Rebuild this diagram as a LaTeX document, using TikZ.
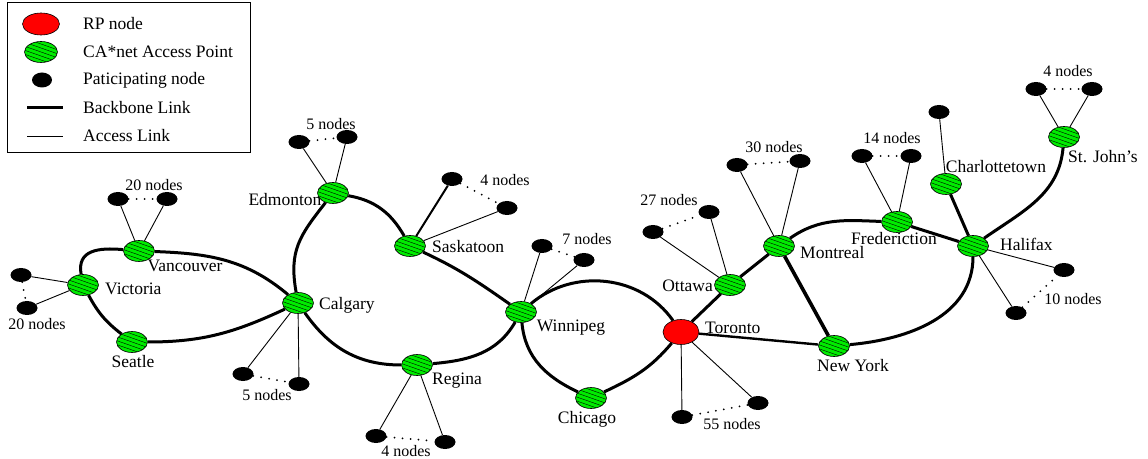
\documentclass[tikz,border=0pt]{standalone}
\usepackage{fontspec}
\setmainfont{Liberation Serif}
\usetikzlibrary{shapes.geometric,backgrounds}
\definecolor{apgreen}{RGB}{0,235,0}
\begin{document}
\begin{tikzpicture}[x=1pt,y=1pt,
  city/.style={ellipse, draw, line width=0.6pt, fill=apgreen, minimum width=31pt, minimum height=21pt, inner sep=0pt,
    path picture={\foreach \k in {-28,-24,...,28}{\draw[line width=0.4pt] ([shift={(-20,\k+7)}]path picture bounding box.center) -- ++(40,-14);}}},
  rp/.style={ellipse, draw, line width=0.6pt, fill=red, minimum width=36pt, minimum height=25pt, inner sep=0pt},
  pdot/.style={ellipse, fill=black, minimum width=21pt, minimum height=14pt, inner sep=0pt},
  lab/.style={font=\fontsize{17.5}{18}\selectfont, inner sep=0pt},
  cnt/.style={font=\fontsize{16}{17}\selectfont, inner sep=0pt},
  bb/.style={line width=3pt},
  acc/.style={line width=0.9pt},
  dts/.style={line width=2pt, dash pattern=on 0pt off 8pt, line cap=round}]
\useasboundingbox (0,0) rectangle (1148,458);
% legend
\node[draw, line width=1pt, minimum width=243pt, minimum height=150pt, inner sep=0pt] (legend) at (128.5,380) {};
\node[rp, minimum width=37pt, minimum height=22pt] (lrp) at (41,434) {};
\node[city, minimum width=33pt, minimum height=21pt] (lca) at (41,406) {};
\node[pdot, minimum width=20pt, minimum height=15pt] (lpn) at (42,378) {};
\coordinate (lb1) at (27,350); \coordinate (lb2) at (63,350);
\coordinate (la1) at (27,322); \coordinate (la2) at (63,322);
\draw[bb] (lb1) -- (lb2);
\draw[acc] (la1) -- (la2);
\node[lab, anchor=west] (t1) at (83,434) {RP node};
\node[lab, anchor=west] (t2) at (83,406) {CA*net Access Point};
\node[lab, anchor=west] (t3) at (83,378) {Paticipating node};
\node[lab, anchor=west] (t4) at (83,350) {Backbone Link};
\node[lab, anchor=west] (t5) at (83,322) {Access Link};
% city labels
\node[lab, anchor=west] (lVictoria) at (105,169) {Victoria};
\node[lab] (lVancouver) at (185,192) {Vancouver};
\node[lab] (lSeatle) at (133,96) {Seatle};
\node[lab, anchor=west] (lCalgary) at (319,153) {Calgary};
\node[lab] (lEdmonton) at (285,258) {Edmonton};
\node[lab, anchor=west] (lSaskatoon) at (432,211) {Saskatoon};
\node[lab] (lWinnipeg) at (571,130) {Winnipeg};
\node[lab] (lRegina) at (457,77) {Regina};
\node[lab] (lChicago) at (587,39) {Chicago};
\node[lab, anchor=west] (lToronto) at (705,130) {Toronto};
\node[lab, anchor=east] (lOttawa) at (713,172) {Ottawa};
\node[lab, anchor=west] (lMontreal) at (800,205) {Montreal};
\node[lab] (lNewYork) at (853,92) {New York};
\node[lab] (lFred) at (894,219) {Frederiction};
\node[lab] (lCharl) at (996,291) {Charlottetown};
\node[lab, anchor=west] (lHalifax) at (1000,214) {Halifax};
\node[lab, anchor=west] (lStJohns) at (1068,301) {St. John’s};
% count labels
\node[cnt] (cvan) at (154,273) {20 nodes};
\node[cnt] (cvic) at (37,134) {20 nodes};
\node[cnt] (ccal) at (267,63) {5 nodes};
\node[cnt] (cedm) at (331,334) {5 nodes};
\node[cnt] (csas) at (505,278) {4 nodes};
\node[cnt] (cwin) at (587,219) {7 nodes};
\node[cnt] (creg) at (406,7) {4 nodes};
\node[cnt] (ctor) at (732,34) {55 nodes};
\node[cnt] (cott) at (669,258) {27 nodes};
\node[cnt] (cmon) at (774,311) {30 nodes};
\node[cnt] (cfre) at (892,320) {14 nodes};
\node[cnt] (cstj) at (1068,387) {4 nodes};
\node[cnt] (chal) at (1073,159) {10 nodes};
% access points
\node[city] (Victoria) at (83,173) {};
\node[city] (Vancouver) at (139,207) {};
\node[city] (Seatle) at (132,116) {};
\node[city] (Calgary) at (298,155) {};
\node[city] (Edmonton) at (333,265) {};
\node[city] (Saskatoon) at (410,212) {};
\node[city] (Winnipeg) at (521,146) {};
\node[city] (Regina) at (417,93) {};
\node[city] (Chicago) at (591,60) {};
\node[rp] (Toronto) at (681,126) {};
\node[city] (Ottawa) at (730,173) {};
\node[city] (Montreal) at (779,212) {};
\node[city] (NewYork) at (834,112) {};
\node[city] (Fred) at (897,236) {};
\node[city] (Charl) at (946,274) {};
\node[city] (Halifax) at (973,212) {};
\node[city] (StJohns) at (1064,321) {};
% participating nodes
\node[pdot] (van1) at (118,259) {};
\node[pdot] (van2) at (167,259) {};
\node[pdot] (vic1) at (21,183) {};
\node[pdot] (vic2) at (27,150) {};
\node[pdot] (cal1) at (243,84) {};
\node[pdot] (cal2) at (299,74) {};
\node[pdot] (edm1) at (299,316) {};
\node[pdot] (edm2) at (347,321) {};
\node[pdot] (sas1) at (452,279) {};
\node[pdot] (sas2) at (507,250) {};
\node[pdot] (win1) at (542,212) {};
\node[pdot] (win2) at (584,198) {};
\node[pdot] (reg1) at (376,22) {};
\node[pdot] (reg2) at (445,16) {};
\node[pdot] (tor1) at (682,41) {};
\node[pdot] (tor2) at (758,55) {};
\node[pdot] (ott1) at (653,226) {};
\node[pdot] (ott2) at (709,246) {};
\node[pdot] (mon1) at (737,293) {};
\node[pdot] (mon2) at (800,297) {};
\node[pdot] (fre1) at (862,302) {};
\node[pdot] (fre2) at (911,302) {};
\node[pdot] (cha1) at (939,346) {};
\node[pdot] (stj1) at (1036,369) {};
\node[pdot] (stj2) at (1092,369) {};
\node[pdot] (hal1) at (1064,188) {};
\node[pdot] (hal2) at (1016,145) {};
\begin{pgfonlayer}{background}
% backbone
\draw[bb] (Victoria) to[out=100,in=175,looseness=1.3] (Vancouver);
\draw[bb] (Vancouver) to[out=-2,in=140] (Calgary);
\draw[bb] (Victoria) to[bend right=12] (Seatle);
\draw[bb] (Seatle) to[out=0,in=205] (Calgary);
\draw[bb] (Calgary) to[out=100,in=232,looseness=1.15] (Edmonton);
\draw[bb] (Calgary) to[out=-55,in=180] (Regina);
\draw[bb] (Regina) to[out=5,in=240] (Winnipeg);
\draw[bb] (Edmonton) to[out=-10,in=120] (Saskatoon);
\draw[bb] (Saskatoon) to[out=-25,in=145] (Winnipeg);
\draw[bb] (Winnipeg) to[out=40,in=125] (Toronto);
\draw[bb] (Winnipeg) to[out=-85,in=155] (Chicago);
\draw[bb] (Chicago) to[out=25,in=230] (Toronto);
\draw[bb] (Toronto) -- (Ottawa);
\draw[bb] (Ottawa) -- (Montreal);
\draw[bb, line width=3.6pt] (Montreal) -- (NewYork);
\draw[bb, line width=2.4pt] (Toronto) -- (NewYork);
\draw[bb] (Montreal) to[out=35,in=178] (Fred);
\draw[bb] (Fred) -- (Halifax);
\draw[bb] (NewYork) to[out=5,in=-90] (Halifax);
\draw[bb] (Charl) -- (Halifax);
\draw[bb] (Halifax) to[out=35,in=-95] (StJohns);
% access
\draw[acc] (Vancouver) -- (van1); \draw[acc] (Vancouver) -- (van2);
\draw[acc] (Victoria) -- (vic1); \draw[acc] (Victoria) -- (vic2);
\draw[acc] (Calgary) -- (cal1); \draw[acc] (Calgary) -- (cal2);
\draw[acc] (Edmonton) -- (edm1); \draw[acc] (Edmonton) -- (edm2);
\draw[acc, line width=2pt] (Saskatoon) -- (sas1); \draw[acc] (Saskatoon) -- (sas2);
\draw[acc] (Winnipeg) -- (win1); \draw[acc] (Winnipeg) -- (win2);
\draw[acc] (Regina) -- (reg1); \draw[acc] (Regina) -- (reg2);
\draw[acc] (Toronto) -- (tor1); \draw[acc] (Toronto) -- (tor2);
\draw[acc] (Ottawa) -- (ott1); \draw[acc] (Ottawa) -- (ott2);
\draw[acc] (Montreal) -- (mon1); \draw[acc] (Montreal) -- (mon2);
\draw[acc] (Fred) -- (fre1); \draw[acc] (Fred) -- (fre2);
\draw[acc] (Charl) -- (cha1);
\draw[acc] (StJohns) -- (stj1); \draw[acc] (StJohns) -- (stj2);
\draw[acc] (Halifax) -- (hal1); \draw[acc] (Halifax) -- (hal2);
% dotted groups
\draw[dts] (van1) -- (van2);
\draw[dts] (vic1) -- (vic2);
\draw[dts] (cal1) -- (cal2);
\draw[dts] (edm1) -- (edm2);
\draw[dts] (sas1) -- (sas2);
\draw[dts] (win1) -- (win2);
\draw[dts] (reg1) -- (reg2);
\draw[dts] (tor1) -- (tor2);
\draw[dts] (ott1) -- (ott2);
\draw[dts] (mon1) -- (mon2);
\draw[dts] (fre1) -- (fre2);
\draw[dts] (stj1) -- (stj2);
\draw[dts] (hal2) -- (hal1);
\end{pgfonlayer}
\end{tikzpicture}
\end{document}
